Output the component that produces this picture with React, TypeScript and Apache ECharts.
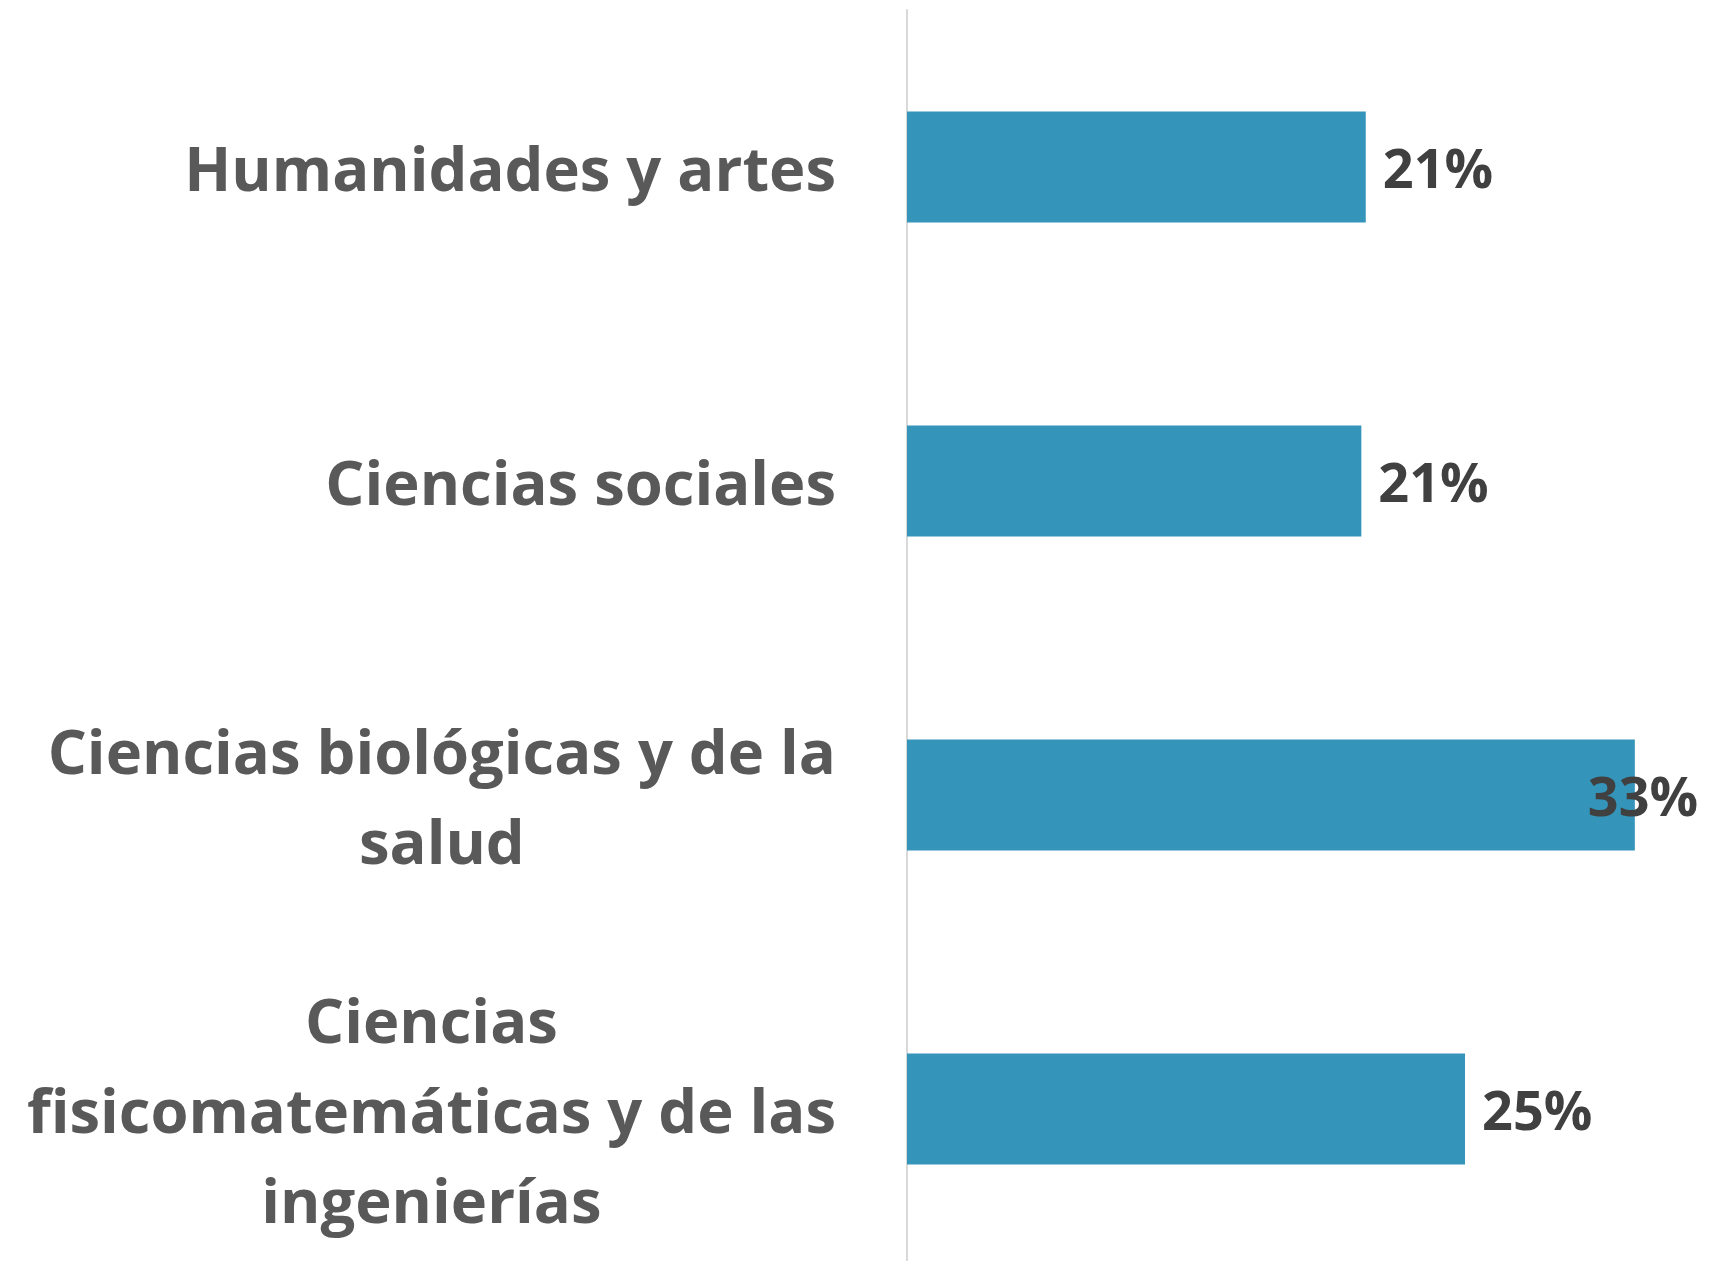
import React, { useEffect, useRef } from "react";
import * as echarts from "echarts";

const categories = [
  "Humanidades y artes",
  "Ciencias sociales",
  "Ciencias biológicas y de la salud",
  "Ciencias fisicomatemáticas y de las ingenierías",
];
const wrappedLabels = [
  ["Humanidades y artes"],
  ["Ciencias sociales"],
  ["Ciencias biológicas y de la", "salud"],
  ["Ciencias", "fisicomatemáticas y de las", "ingenierías"],
];
const values = [0.208, 0.206, 0.33, 0.253];
const valueLabels = ["21%", "21%", "33%", "25%"];

export default function App() {
  const ref = useRef<HTMLDivElement>(null);
  useEffect(() => {
    if (!ref.current) return;
    const chart = echarts.init(ref.current, undefined, { renderer: "svg" });
    const font = "'Open Sans', sans-serif";
    chart.setOption({
      animation: false,
      backgroundColor: "#ffffff",
      grid: { left: 907, right: 9, top: 10, bottom: -5, containLabel: false },
      xAxis: {
        type: "value",
        min: 0,
        max: 0.36,
        show: false,
      },
      yAxis: {
        type: "category",
        inverse: true,
        data: categories,
        axisTick: { show: false },
        axisLine: { show: true, lineStyle: { color: "#D9D9D9", width: 2 } },
        axisLabel: {
          margin: 71,
          align: "right",
          verticalAlign: "middle",
          formatter: (v: string) => {
            const i = categories.indexOf(v);
            return wrappedLabels[i].map((l) => `{c|${l}}`).join("\n");
          },
          rich: {
            c: {
              align: "center",
              fontFamily: font,
              fontWeight: "bold",
              fontSize: 61.5,
              lineHeight: 90,
              color: "#595959",
            },
          },
        },
      },
      series: [
        {
          type: "bar",
          barCategoryGap: "64.6%",
          itemStyle: { color: "#3494BA" },
          data: values.map((v, i) =>
            i === 2
              ? { value: v, label: { offset: [-64, 0] } }
              : { value: v }
          ),
          label: {
            show: true,
            position: "right",
            distance: 17,
            formatter: (p: any) => valueLabels[p.dataIndex],
            fontFamily: font,
            fontWeight: "bold",
            fontSize: 54,
            color: "#404040",
          },
        },
      ],
    });
    return () => chart.dispose();
  }, []);
  return (
    <div
      ref={ref}
      style={{ position: "absolute", left: 0, top: 0, width: 1710, height: 1266 }}
    />
  );
}
